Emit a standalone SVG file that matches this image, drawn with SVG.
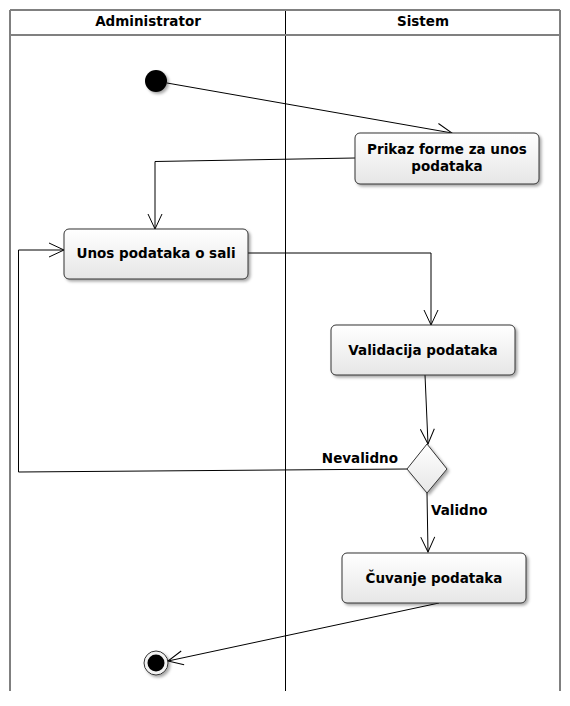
<svg xmlns="http://www.w3.org/2000/svg" width="570" height="706" viewBox="0 0 570 706">
<style>
.lbl{font-family:"DejaVu Sans",Verdana,sans-serif;font-weight:bold;font-size:13.5px;fill:#000}
.box{fill:url(#g);stroke:#333;stroke-width:1;filter:url(#sh)}
.con{fill:none;stroke:#000;stroke-width:1;marker-end:url(#arr)}
.lane{stroke:#000;stroke-width:1}
</style>
<defs>
<linearGradient id="g" x1="0" y1="0" x2="0" y2="1">
<stop offset="0" stop-color="#ffffff"/>
<stop offset="1" stop-color="#e6e6e6"/>
</linearGradient>
<filter id="sh" x="-10%" y="-20%" width="130%" height="150%">
<feDropShadow dx="2" dy="2" stdDeviation="1.5" flood-color="#000" flood-opacity="0.35"/>
</filter>
<marker id="arr" markerWidth="17" markerHeight="16" refX="16" refY="8" orient="auto" markerUnits="userSpaceOnUse">
<path d="M1,1 L16,8 L1,15" fill="none" stroke="#000" stroke-width="1"/>
</marker>
</defs>
<g id="lanes">
<line class="lane" x1="10" y1="10" x2="10" y2="691"/>
<line class="lane" x1="285.5" y1="10" x2="285.5" y2="691"/>
<line class="lane" x1="560" y1="10" x2="560" y2="691"/>
<line x1="10" y1="10" x2="560" y2="10" stroke="#808080" stroke-width="2"/>
<line x1="10" y1="35" x2="560" y2="35" stroke="#808080" stroke-width="2"/>
<text class="lbl" x="148" y="26" text-anchor="middle">Administrator</text>
<text class="lbl" x="423" y="26" text-anchor="middle">Sistem</text>
</g>
<g id="connectors">
<path class="con" d="M167,83 L452,133"/>
<path class="con" d="M355,158 L155,161.5 L155,229"/>
<path class="con" d="M248,253 L431,253 L431,325"/>
<path class="con" d="M425,375 L428,444"/>
<path class="con" d="M407,469 L18.5,472 L18.5,250 L64,250"/>
<path class="con" d="M427,493 L428,552"/>
<path class="con" d="M439,603 L168,661"/>
<text class="lbl" x="398" y="463" text-anchor="end">Nevalidno</text>
<text class="lbl" x="431" y="515">Validno</text>
</g>
<g id="start">
<circle cx="156" cy="81" r="11" fill="#000" filter="url(#sh)"/>
</g>
<g id="prikaz">
<rect class="box" x="355" y="133" width="184" height="51" rx="5"/>
<text class="lbl" x="447" y="154" text-anchor="middle">Prikaz forme za unos</text>
<text class="lbl" x="447" y="171" text-anchor="middle">podataka</text>
</g>
<g id="unos">
<rect class="box" x="64" y="229" width="184" height="50" rx="5"/>
<text class="lbl" x="156" y="258" text-anchor="middle">Unos podataka o sali</text>
</g>
<g id="validacija">
<rect class="box" x="331" y="325" width="184" height="50" rx="5"/>
<text class="lbl" x="423" y="354.5" text-anchor="middle">Validacija podataka</text>
</g>
<g id="decision">
<path d="M427,444 L447,469 L427,493 L407,469 Z" fill="url(#g)" stroke="#333" stroke-width="1" filter="url(#sh)"/>
</g>
<g id="cuvanje">
<rect class="box" x="342" y="553" width="184" height="50" rx="5"/>
<text class="lbl" x="434" y="582.5" text-anchor="middle">Čuvanje podataka</text>
</g>
<g id="end">
<circle cx="156" cy="663" r="12" fill="#f2f2f2" stroke="#333" stroke-width="1" filter="url(#sh)"/>
<circle cx="156" cy="663" r="8.5" fill="#000"/>
</g>
</svg>
